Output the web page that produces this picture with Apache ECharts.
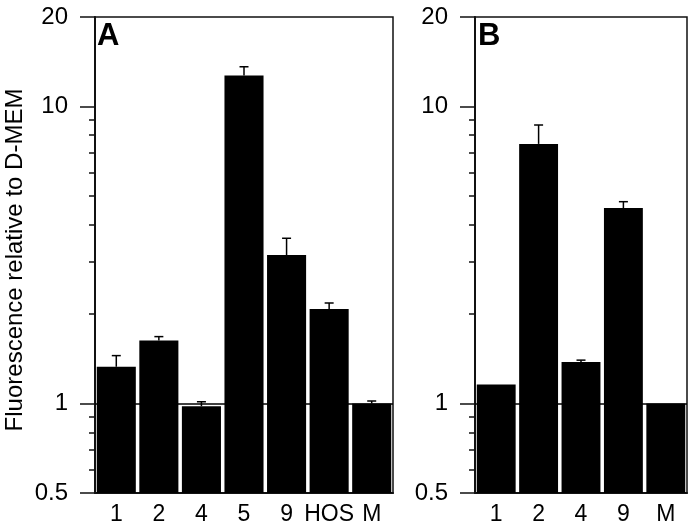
<!DOCTYPE html>
<html>
<head>
<meta charset="utf-8">
<script src="https://cdn.jsdelivr.net/npm/echarts@6/dist/echarts.min.js"></script>
<style>
  html, body { margin: 0; padding: 0; background: #fff; }
  #main { width: 696px; height: 529px; }
</style>
</head>
<body>
<div id="main"></div>
<script>
// panel A
const catsA = ['1', '2', '4', '5', '9', 'HOS', 'M']
const valsA = [1.33, 1.63, 0.98, 12.7, 3.16, 2.08, 1.0]
const errA = [1.45, 1.68, 1.014, 13.6, 3.6, 2.18, 1.02]
// panel B
const catsB = ['1', '2', '4', '9', 'M']
const valsB = [1.16, 7.48, 1.38, 4.55, 1.0]
const errB = [1.16, 8.66, 1.40, 4.78, 1.0]

const majorTicks = [0.5, 1, 10, 20]
const minorTicks = [0.6, 0.7, 0.8, 0.9, 2, 3, 4, 5, 6, 7, 8, 9]
const yMin = 0.5, yMax = 20

const font = 'Liberation Sans, Arial, sans-serif'
const lineCol = '#111'

let myChart = echarts.init(document.getElementById('main'))

function renderBar(params, api) {
    const x = api.value(0)
    const v = api.value(1)
    const e = api.value(2)
    const top = api.coord([x, v])
    const base = api.coord([x, yMin])
    const band = api.size([1, 1], [x, 1])[0]
    const w = band - 3.5
    const children = [{
        type: 'rect',
        shape: { x: top[0] - w / 2, y: top[1], width: w, height: base[1] - top[1] },
        style: { fill: '#000' }
    }]
    if (e > v) {
        const et = api.coord([x, e])
        children.push({
            type: 'line',
            shape: { x1: top[0], y1: top[1], x2: top[0], y2: et[1] },
            style: { stroke: '#000', lineWidth: 1.5 }
        })
        children.push({
            type: 'line',
            shape: { x1: top[0] - 4.5, y1: et[1], x2: top[0] + 4.5, y2: et[1] },
            style: { stroke: '#000', lineWidth: 1.5 }
        })
    }
    return { type: 'group', children: children }
}

function xAxisOf(idx, cats) {
    return {
        type: 'category',
        gridIndex: idx,
        data: cats,
        axisLine: { lineStyle: { color: lineCol, width: 2 } },
        axisTick: { show: false },
        axisLabel: { color: '#000', fontSize: 23, fontFamily: font, margin: 10, interval: 0 }
    }
}

function yAxesOf(idx) {
    return [{
        type: 'log',
        logBase: 10,
        gridIndex: idx,
        position: 'left',
        min: yMin,
        max: yMax,
        axisLine: { show: true, lineStyle: { color: lineCol, width: 2 } },
        axisTick: { show: true, length: 15, customValues: majorTicks, lineStyle: { color: lineCol, width: 1.5 } },
        axisLabel: {
            customValues: majorTicks, color: '#000', fontSize: 24, fontFamily: font, margin: 27,
            formatter: v => String(v)
        },
        splitLine: { show: false }
    }, {
        type: 'log',
        logBase: 10,
        gridIndex: idx,
        position: 'left',
        offset: 0,
        min: yMin,
        max: yMax,
        axisLine: { show: false },
        axisTick: { show: true, length: 6, customValues: minorTicks, lineStyle: { color: lineCol, width: 1.5 } },
        axisLabel: { show: false },
        splitLine: { show: false }
    }]
}

function seriesOf(idx, vals, errs) {
    return {
        type: 'custom',
        xAxisIndex: idx,
        yAxisIndex: idx * 2,
        renderItem: renderBar,
        data: vals.map((v, i) => [i, v, errs[i]]),
        markLine: {
            silent: true,
            symbol: 'none',
            label: { show: false },
            lineStyle: { color: '#000', width: 1.5, type: 'solid' },
            data: [{ yAxis: 1 }]
        }
    }
}

let option = {
    animation: false,
    backgroundColor: '#fff',
    grid: [
        { left: 95, top: 17, width: 298, height: 476, show: true, borderColor: lineCol, borderWidth: 1.5 },
        { left: 475, top: 17, width: 212, height: 476, show: true, borderColor: lineCol, borderWidth: 1.5 }
    ],
    xAxis: [xAxisOf(0, catsA), xAxisOf(1, catsB)],
    yAxis: yAxesOf(0).concat(yAxesOf(1)),
    series: [seriesOf(0, valsA, errA), seriesOf(1, valsB, errB)],
    graphic: [
        {
            type: 'text', rotation: Math.PI / 2,
            x: 15, y: 260,
            style: { text: 'Fluorescence relative to D-MEM', font: '24px ' + font, fill: '#000', textAlign: 'center', textVerticalAlign: 'middle' }
        },
        { type: 'text', x: 97, y: 21, style: { text: 'A', font: 'bold 31px ' + font, fill: '#000' } },
        { type: 'text', x: 478, y: 21, style: { text: 'B', font: 'bold 31px ' + font, fill: '#000' } }
    ]
}

myChart.setOption(option)
</script>
</body>
</html>
